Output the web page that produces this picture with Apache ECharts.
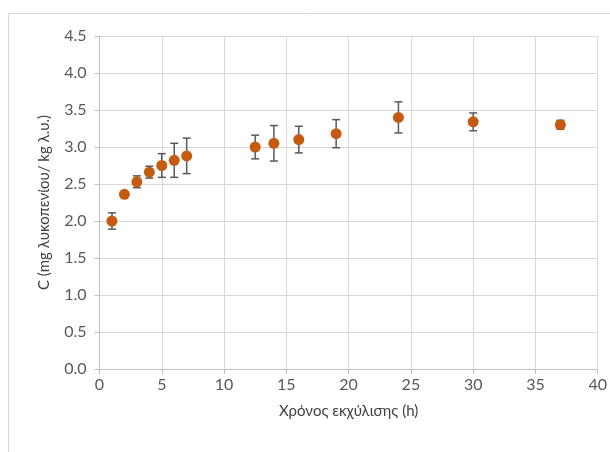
<!DOCTYPE html>
<html>
<head>
<meta charset="utf-8">
<script src="https://cdn.jsdelivr.net/npm/echarts@6/dist/echarts.min.js"></script>
<style>html,body{margin:0;padding:0;background:#fff}#c{width:610px;height:452px}</style>
</head>
<body>
<div id="c"></div>
<script>
const times = [1, 2, 3, 4, 5, 6, 7, 12.5, 14, 16, 19, 24, 30, 37];
const means = [2.00, 2.36, 2.53, 2.66, 2.75, 2.82, 2.88, 3.00, 3.05, 3.10, 3.18, 3.40, 3.34, 3.30];
const errs  = [0.11, 0.03, 0.08, 0.08, 0.16, 0.23, 0.24, 0.16, 0.24, 0.18, 0.19, 0.21, 0.12, 0.06];
const xTitle = 'Χρόνος εκχύλισης (h)';
const yTitle = 'C (mg λυκοπενίου/ kg λ.υ.)';

const FONT = "Lato, 'Noto Sans', sans-serif";
const points = times.map((t, i) => [t, means[i]]);
const bars = times.map((t, i) => [t, means[i] - errs[i], means[i] + errs[i]]);

const chart = echarts.init(document.getElementById('c'), null, {renderer: 'canvas'});
chart.setOption({
  animation: false,
  backgroundColor: '#fff',
  graphic: [{
    type: 'rect', shape: {x: 8.5, y: 13.5, width: 620, height: 460},
    style: {fill: 'none', stroke: '#d9d9d9', lineWidth: 1}, z: -10, silent: true
  }],
  grid: {left: 99.5, right: 12, top: 36, bottom: 83, containLabel: false},
  xAxis: {
    type: 'value', min: 0, max: 40, interval: 5,
    name: xTitle, nameLocation: 'middle', nameGap: 35,
    nameTextStyle: {color: '#404040', fontSize: 15, fontFamily: FONT},
    axisLine: {show: true, onZero: false, lineStyle: {color: '#bfbfbf', width: 1}},
    axisTick: {show: true, length: 5, lineStyle: {color: '#bfbfbf'}},
    axisLabel: {color: '#595959', fontSize: 16, fontFamily: FONT, margin: 8},
    splitLine: {show: true, lineStyle: {color: '#d9d9d9', width: 1}}
  },
  yAxis: {
    type: 'value', min: 0, max: 4.5, interval: 0.5,
    name: yTitle, nameLocation: 'middle', nameGap: 48, nameRotate: 90,
    nameTextStyle: {color: '#404040', fontSize: 15, fontFamily: FONT},
    axisLine: {show: true, lineStyle: {color: '#bfbfbf', width: 1}},
    axisTick: {show: true, length: 5, lineStyle: {color: '#bfbfbf'}},
    axisLabel: {color: '#595959', fontSize: 16, fontFamily: FONT, margin: 13,
      formatter: v => v.toFixed(1)},
    splitLine: {show: true, lineStyle: {color: '#d9d9d9', width: 1}}
  },
  series: [
    {
      type: 'custom',
      data: bars,
      z: 2,
      renderItem: function (params, api) {
        const x = api.value(0);
        const lo = api.coord([x, api.value(1)]);
        const hi = api.coord([x, api.value(2)]);
        const w = 4;
        const st = {stroke: '#595959', lineWidth: 1.5, fill: 'none'};
        return {
          type: 'group',
          children: [
            {type: 'line', shape: {x1: lo[0], y1: lo[1], x2: hi[0], y2: hi[1]}, style: st},
            {type: 'line', shape: {x1: lo[0] - w, y1: lo[1], x2: lo[0] + w, y2: lo[1]}, style: st},
            {type: 'line', shape: {x1: hi[0] - w, y1: hi[1], x2: hi[0] + w, y2: hi[1]}, style: st}
          ]
        };
      }
    },
    {
      type: 'scatter',
      data: points,
      symbol: 'circle',
      symbolSize: 11,
      z: 3,
      itemStyle: {color: '#c55a11', opacity: 1}
    }
  ]
});
</script>
</body>
</html>
